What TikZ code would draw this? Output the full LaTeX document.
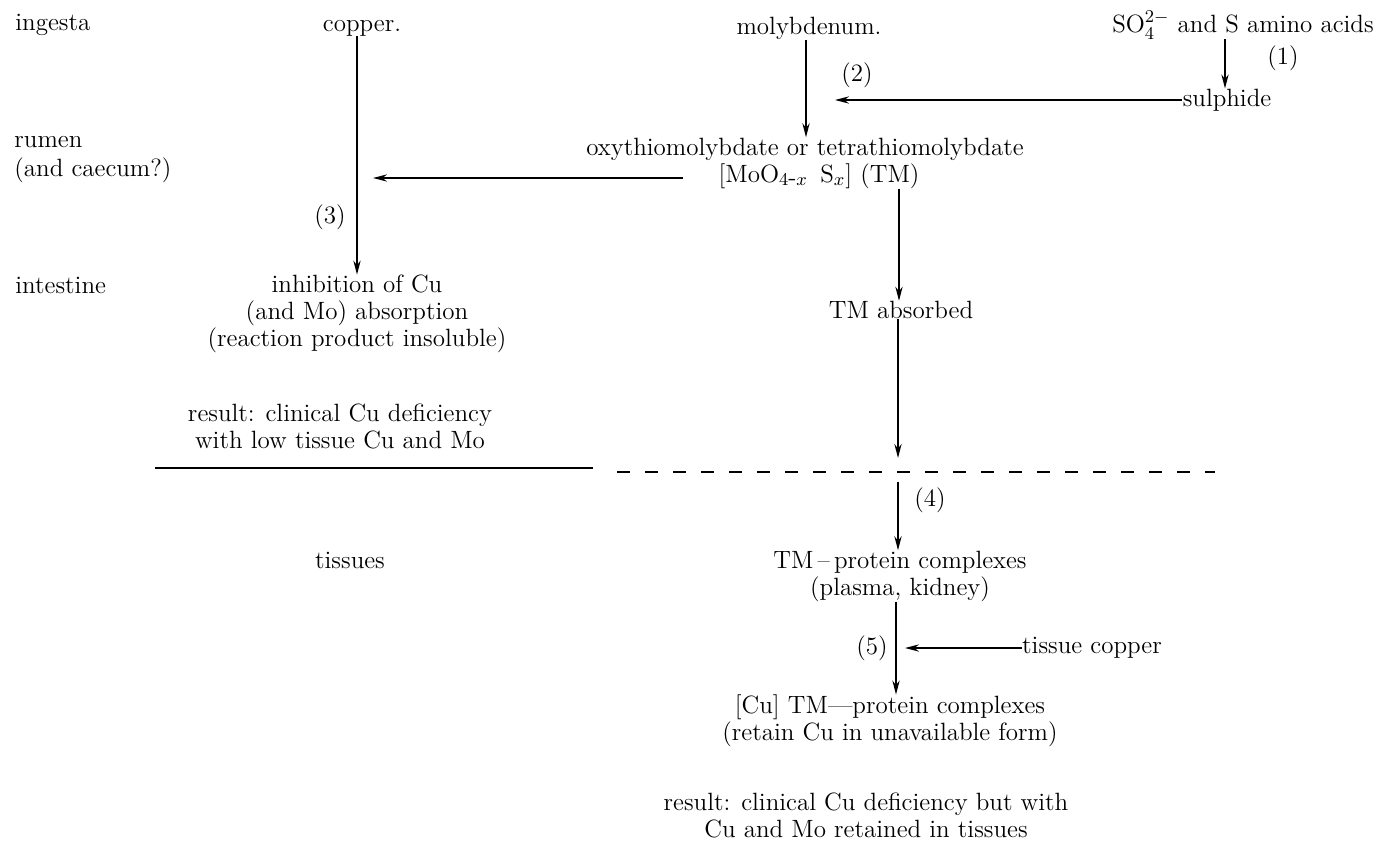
\documentclass[tikz,border=0pt]{standalone}
\usetikzlibrary{arrows.meta}
\begin{document}
\begin{tikzpicture}[x=0.5pt,y=-0.5pt,
  txt/.style={inner sep=0pt,font=\fontsize{12.5}{13.5}\selectfont,align=center},
  arr/.style={-{Stealth[length=7pt,width=3.6pt]},line width=1pt},
  rule/.style={line width=1pt}]
\useasboundingbox (0,0) rectangle (1382,846);
% row labels
\node[txt,anchor=west] (ingesta) at (15,25) {ingesta};
\node[txt,anchor=west,align=left,font=\fontsize{12.5}{14.5}\selectfont] (rumen) at (14,160) {rumen\\(and caecum?)};
\node[txt,anchor=west] (intestine) at (15,285) {intestine};
\node[txt] (tissues) at (350,560) {tissues};
% copper column
\node[txt] (copper) at (362,28) {copper.};
\node[txt] (inhib) at (357,314) {inhibition of Cu\\(and Mo) absorption\\(reaction product insoluble)};
\node[txt] (res1) at (340,426) {result: clinical Cu deficiency\\with low tissue Cu and Mo};
\coordinate (cux) at (357,0);
\draw[arr] (copper.south -| cux) -- (inhib.north -| cux);
\node[txt] (l3) at (330,217) {(3)};
% molybdenum column
\node[txt] (molyb) at (809,28) {molybdenum.};
\node[txt] (oxy) at (805,163) {oxythiomolybdate or tetrathiomolybdate\\{}\hspace*{14pt}[MoO$_{4\mbox{-}x}$\,\ S$_x$]\ (TM)};
\coordinate (mox) at (806,0);
\draw[arr] (molyb.south -| mox) -- (oxy.north -| mox);
\node[txt] (l2) at (857,75) {(2)};
% sulphide
\node[txt] (so4) at (1243,25) {SO$_4^{2-}$ and S amino acids};
\node[txt] (sulph) at (1227,100) {sulphide};
\coordinate (sx) at (1225,0);
\draw[arr] (so4.south -| sx) -- (sulph.north -| sx);
\node[txt] (l1) at (1283,58) {(1)};
\coordinate (c2) at (835,100);
\draw[arr] (sulph.west) -- (c2);
% TM to copper
\coordinate (oxl) at (683,178);
\coordinate (cul) at (373,178);
\draw[arr] (oxl) -- (cul);
% TM absorbed
\node[txt] (tmabs) at (901,310) {TM absorbed};
\coordinate (tmx) at (899,0);
\draw[arr] (oxy.south -| tmx) -- (tmabs.north -| tmx);
% boundary lines
\coordinate (s1) at (155,468);
\coordinate (s2) at (593,468);
\coordinate (d1) at (617,472);
\coordinate (d2) at (1215,472);
\draw[rule] (s1) -- (s2);
\draw[rule,dash pattern=on 6.5pt off 7.5pt] (d1) -- (d2);
\coordinate (abx) at (898,458);
\draw[arr] (tmabs.south -| abx) -- (abx);
% tissues column
\node[txt] (tmprot) at (900,576) {TM\,--\,protein complexes\\(plasma, kidney)};
\coordinate (a4) at (898,482);
\draw[arr] (a4) -- (tmprot.north -| a4);
\node[txt] (l4) at (930,500) {(4)};
\node[txt] (cutm) at (890,721) {[Cu] TM---protein complexes\\(retain Cu in unavailable form)};
\coordinate (a5) at (896,0);
\draw[arr] (tmprot.south -| a5) -- (cutm.north -| a5);
\node[txt] (l5) at (872,648) {(5)};
\node[txt] (tcop) at (1092,648) {tissue copper};
\coordinate (c5) at (905,648);
\draw[arr] (tcop.west) -- (c5);
\node[txt] (res2) at (866,815) {result: clinical Cu deficiency but with\\Cu and Mo retained in tissues};
\end{tikzpicture}
\end{document}
